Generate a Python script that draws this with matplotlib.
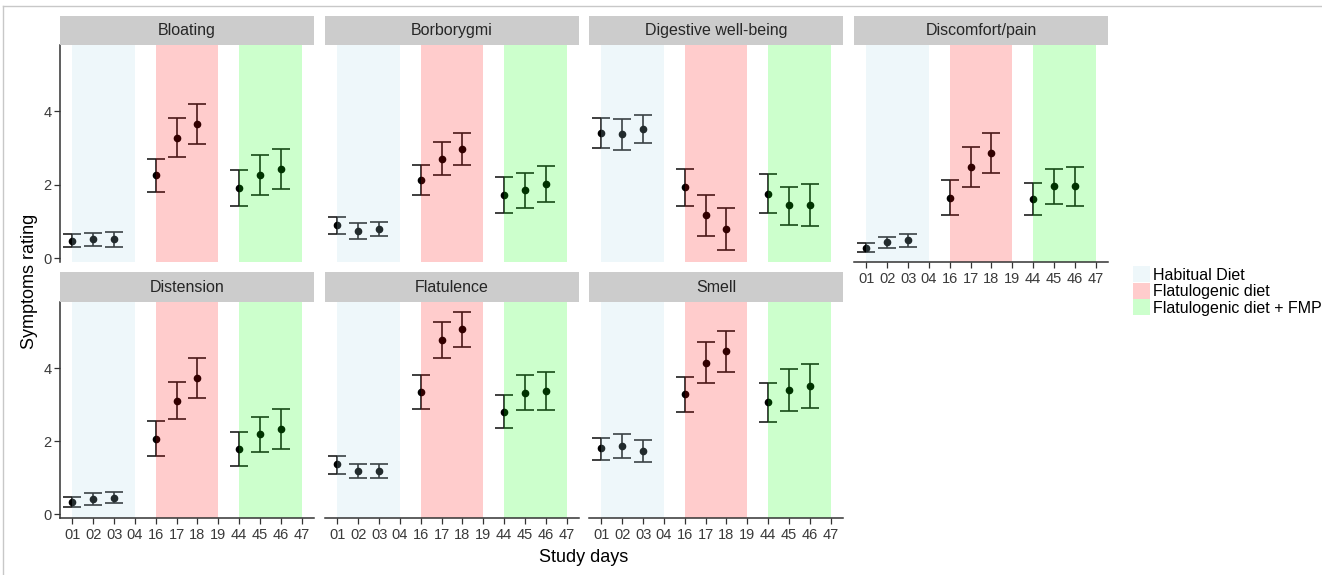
import numpy as np
import matplotlib
matplotlib.use("Agg")
from matplotlib import pyplot as plt
from matplotlib.patches import Patch
from matplotlib.lines import Line2D

plt.rcParams['font.family'] = ['Liberation Sans', 'DejaVu Sans']

days = ['01', '02', '03', '04', '16', '17', '18', '19', '44', '45', '46', '47']
measured_days = ['01', '02', '03', '16', '17', '18', '44', '45', '46']

periods = ['Habitual Diet', 'Flatulogenic diet', 'Flatulogenic diet + FMP']
period_start = ['01', '16', '44']
period_end = ['04', '19', '47']
period_colors = ['lightblue', '#FF0000', '#00FF00']

symptoms = ['Bloating', 'Borborygmi', 'Digestive well-being', 'Discomfort/pain',
            'Distension', 'Flatulence', 'Smell']

# mean and 95% CI bounds
bloating_mean = [0.47, 0.51, 0.51, 2.26, 3.28, 3.66, 1.91, 2.26, 2.42]
bloating_lo = [0.31, 0.32, 0.31, 1.81, 2.75, 3.12, 1.42, 1.72, 1.87]
bloating_hi = [0.65, 0.69, 0.71, 2.70, 3.82, 4.20, 2.41, 2.80, 2.97]

borborygmi_mean = [0.89, 0.75, 0.79, 2.13, 2.71, 2.97, 1.73, 1.85, 2.03]
borborygmi_lo = [0.65, 0.53, 0.59, 1.71, 2.27, 2.53, 1.23, 1.37, 1.53]
borborygmi_hi = [1.13, 0.95, 0.99, 2.55, 3.16, 3.41, 2.21, 2.32, 2.51]

wellbeing_mean = [3.41, 3.37, 3.53, 1.93, 1.16, 0.79, 1.75, 1.44, 1.44]
wellbeing_lo = [3.00, 2.94, 3.13, 1.41, 0.59, 0.22, 1.22, 0.91, 0.86]
wellbeing_hi = [3.81, 3.79, 3.91, 2.44, 1.72, 1.37, 2.28, 1.95, 2.02]

discomfort_mean = [0.28, 0.43, 0.48, 1.65, 2.49, 2.87, 1.61, 1.96, 1.96]
discomfort_lo = [0.16, 0.27, 0.31, 1.17, 1.95, 2.32, 1.16, 1.47, 1.43]
discomfort_hi = [0.41, 0.58, 0.65, 2.13, 3.02, 3.42, 2.05, 2.44, 2.47]

distension_mean = [0.34, 0.41, 0.45, 2.05, 3.11, 3.74, 1.78, 2.18, 2.33]
distension_lo = [0.19, 0.25, 0.30, 1.58, 2.60, 3.19, 1.32, 1.69, 1.78]
distension_hi = [0.47, 0.57, 0.60, 2.54, 3.62, 4.27, 2.25, 2.67, 2.87]

flatulence_mean = [1.36, 1.19, 1.19, 3.35, 4.77, 5.06, 2.80, 3.32, 3.37]
flatulence_lo = [1.11, 0.99, 0.99, 2.88, 4.27, 4.58, 2.36, 2.84, 2.84]
flatulence_hi = [1.60, 1.37, 1.37, 3.82, 5.25, 5.54, 3.25, 3.82, 3.88]

smell_mean = [1.80, 1.87, 1.73, 3.28, 4.15, 4.46, 3.06, 3.40, 3.51]
smell_lo = [1.49, 1.53, 1.43, 2.79, 3.58, 3.88, 2.51, 2.81, 2.91]
smell_hi = [2.09, 2.19, 2.04, 3.76, 4.70, 5.02, 3.60, 3.96, 4.10]

means = [bloating_mean, borborygmi_mean, wellbeing_mean, discomfort_mean,
         distension_mean, flatulence_mean, smell_mean]
lows = [bloating_lo, borborygmi_lo, wellbeing_lo, discomfort_lo,
        distension_lo, flatulence_lo, smell_lo]
highs = [bloating_hi, borborygmi_hi, wellbeing_hi, discomfort_hi,
         distension_hi, flatulence_hi, smell_hi]

W, H = 1322, 575
fig = plt.figure(figsize=(W / 100, H / 100), dpi=100)


def box(x0, y0, x1, y1):
    return [x0 / W, 1 - y1 / H, (x1 - x0) / W, (y1 - y0) / H]


col_x = [60, 325, 589, 854]
panel_w = 254
rows = [(16, 45, 262), (272, 302, 518)]

# shared y scale with ggplot-like 5% expansion
ymin = min(min(l) for l in lows)
ymax = max(max(h) for h in highs)
pad = 0.05 * (ymax - ymin)
ylim = (ymin - pad, ymax + pad)

xs = [days.index(d) for d in measured_days]
tick_color = '#3A3A3A'

for i, name in enumerate(symptoms):
    r, c = divmod(i, 4)
    s_top, p_top, p_bot = rows[r]
    x0 = col_x[c]
    ax = fig.add_axes(box(x0, p_top, x0 + panel_w, p_bot))
    sx = fig.add_axes(box(x0, s_top, x0 + panel_w, p_top))
    sx.set_facecolor('#CCCCCC')
    sx.set_xticks([])
    sx.set_yticks([])
    for sp in sx.spines.values():
        sp.set_visible(False)
    sx.text(0.5, 0.5, name, ha='center', va='center', fontsize=11.5,
            color='#262626', transform=sx.transAxes)

    m = np.array(means[i])
    lo = np.array(lows[i])
    hi = np.array(highs[i])
    ax.errorbar(xs, m, yerr=[m - lo, hi - m], fmt='none', ecolor='#1E1E1E',
                elinewidth=1.2, capsize=6.5, capthick=1.2, zorder=2)
    ax.plot(xs, m, 'o', color='black', markersize=4.5, zorder=2.5)

    for p in range(len(periods)):
        ax.axvspan(days.index(period_start[p]), days.index(period_end[p]),
                   color=period_colors[p], alpha=0.2, lw=0, zorder=3)

    ax.set_xlim(-0.6, len(days) - 0.4)
    ax.set_ylim(*ylim)
    ax.set_facecolor('none')
    ax.spines['top'].set_visible(False)
    ax.spines['right'].set_visible(False)

    show_x = (r == 1) or (i == 3)
    show_y = (c == 0)

    ax.set_xticks(range(len(days)))
    ax.set_yticks([0, 2, 4])
    if show_x:
        ax.set_xticklabels(days)
        ax.tick_params(axis='x', length=4, width=0.9, pad=3, labelsize=10.5,
                       labelcolor=tick_color, color='#333333')
        ax.spines['bottom'].set_linewidth(1.1)
        ax.spines['bottom'].set_color('#333333')
    else:
        ax.spines['bottom'].set_visible(False)
        ax.tick_params(axis='x', length=0, labelbottom=False)
    if show_y:
        ax.set_yticklabels(['0', '2', '4'])
        ax.tick_params(axis='y', length=4, width=0.9, pad=2, labelsize=10.5,
                       labelcolor=tick_color, color='#333333')
        ax.spines['left'].set_linewidth(1.1)
        ax.spines['left'].set_color('#333333')
    else:
        ax.spines['left'].set_visible(False)
        ax.tick_params(axis='y', length=0, labelleft=False)
    for sp in ax.spines.values():
        sp.set_zorder(4)

fig.text(584 / W, 1 - 557 / H, 'Study days', ha='center', va='center',
         fontsize=13, color='black')
fig.text(30 / W, 1 - 281 / H, 'Symptoms rating', ha='center', va='center',
         rotation=90, fontsize=13, color='black')

handles = [Patch(facecolor=period_colors[p], alpha=0.2, edgecolor='none')
           for p in range(len(periods))]
fig.legend(handles, periods, loc='center left',
           bbox_to_anchor=(1133 / W, 1 - 291 / H), frameon=False,
           fontsize=11.5, handlelength=1.05, handleheight=1.15,
           handletextpad=0.2, labelspacing=0, borderpad=0, borderaxespad=0)

# screenshot frame lines
fig.add_artist(Line2D([3 / W, 1], [1 - 6 / H, 1 - 6 / H], color='#C8C8C8', lw=1))
fig.add_artist(Line2D([3 / W, 3 / W], [0, 1 - 6 / H], color='#C8C8C8', lw=1))

fig.savefig('out.png', dpi=100)
